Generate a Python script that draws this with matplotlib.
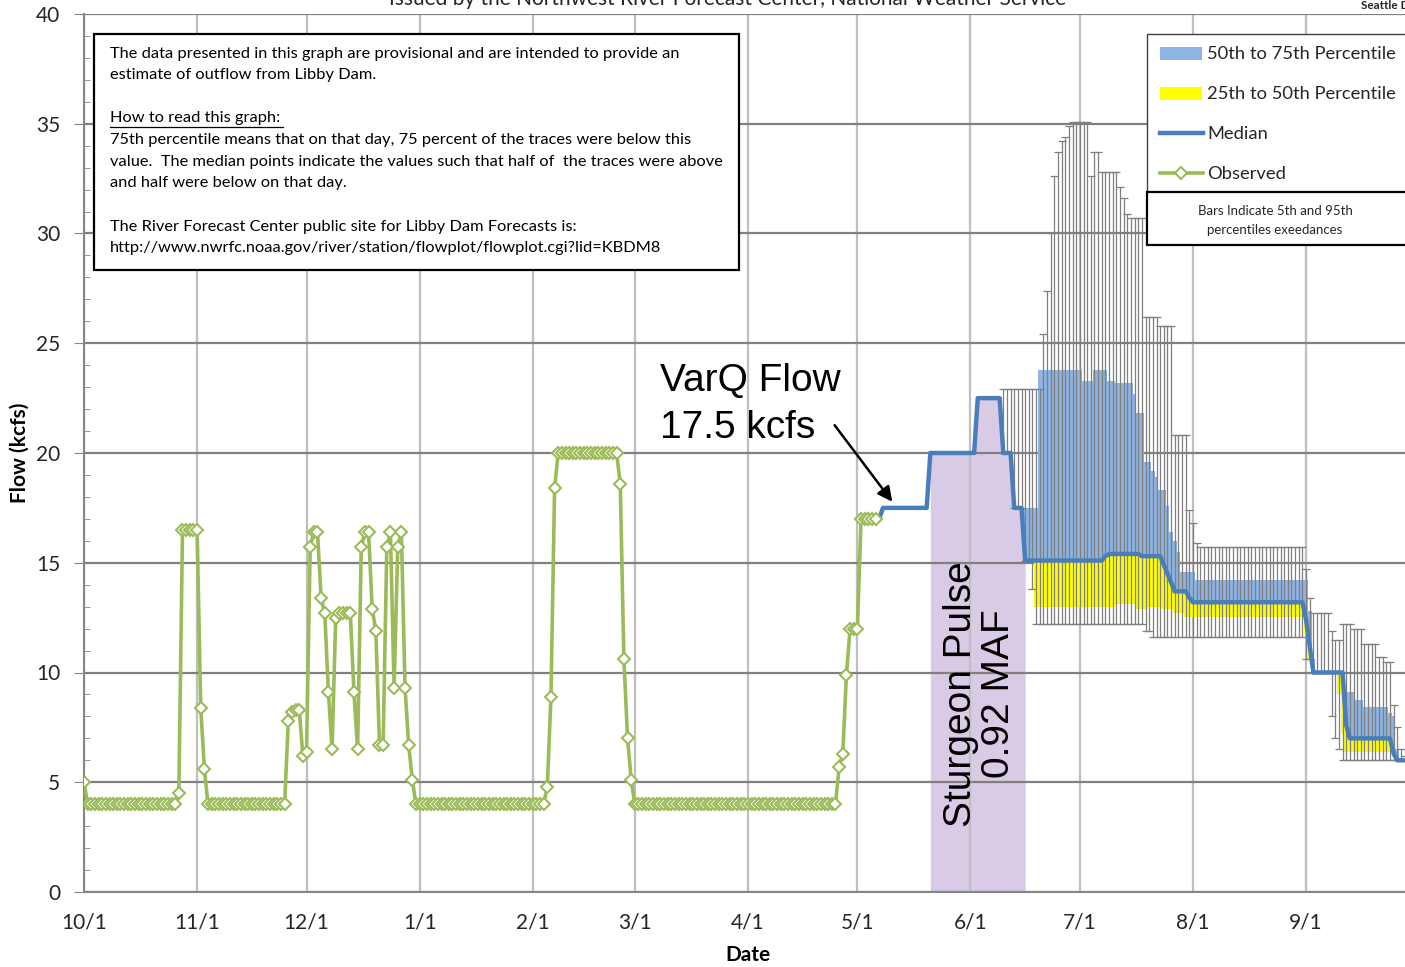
import numpy as np
import matplotlib
matplotlib.use("Agg")
import matplotlib.pyplot as plt
from matplotlib.patches import Rectangle
from matplotlib.lines import Line2D

plt.rcParams['font.family'] = ['Lato', 'DejaVu Sans']

# ---- data (x = days since 10/1) ----
month_days = [0, 31, 61, 92, 123, 151, 182, 212, 243, 273, 304, 335]
month_labels = ["10/1", "11/1", "12/1", "1/1", "2/1", "3/1", "4/1",
                "5/1", "6/1", "7/1", "8/1", "9/1"]

# observed daily outflow, 10/1 .. 5/6
observed = ([5.0] + [4.0] * 25 + [4.5] + [16.5] * 5 + [8.4, 5.6] + [4.0] * 22
            + [7.8, 8.2, 8.3, 8.3, 6.2, 6.4, 15.7, 16.4, 16.4, 13.4, 12.7, 9.1,
               6.5, 12.5, 12.7, 12.7, 12.7, 12.7, 9.1, 6.5, 15.7, 16.4, 16.4,
               12.9, 11.9, 6.7, 6.7, 15.7, 16.4, 9.3, 15.7, 16.4, 9.3, 6.7, 5.1]
            + [4.0] * 36 + [4.8, 8.9, 18.4] + [20.0] * 17
            + [18.6, 10.6, 7.0, 5.1] + [4.0] * 56
            + [5.7, 6.3, 9.9, 12.0, 12.0, 12.0] + [17.0] * 5)
obs_start = 0

# forecast median, from day 218
median = ([17.0] + [17.5] * 13 + [20.0] * 13 + [22.5] * 7 + [20.0] * 3
          + [17.5] * 3 + [15.1] * 22 + [15.3] + [15.4] * 9 + [15.3] * 6
          + [14.9, 14.5, 14.1] + [13.7] * 4 + [13.4] + [13.2] * 31
          + [12.4, 11.2] + [10.0] * 9 + [7.6] + [7.0] * 12 + [6.3] + [6.0] * 3)
med_start = 218

# percentiles, from day 252
pct_start = 252
p95 = ([22.9] * 11 + [25.4, 27.4, 30.0, 32.6, 33.7, 34.2, 34.4, 34.9]
       + [35.1] * 5 + [32.6] + [33.7] * 2 + [32.8] * 5 + [32.1, 31.6, 30.9]
       + [30.7] * 4 + [26.2] * 4 + [25.8] * 4 + [20.8] * 4 + [17.4, 16.8, 15.9]
       + [15.7] * 29 + [14.7, 13.4] + [12.7] * 5 + [11.9] + [11.5] * 2
       + [12.2] * 3 + [12.0] * 3 + [11.3] * 4 + [10.7] * 2 + [10.5] * 2
       + [8.5, 7.5, 6.5, 6.2])
p75 = ([20.0, 20.0, 20.0, 17.5, 17.5] + [17.5] * 5 + [23.8] * 12 + [23.3] * 3
       + [23.8] * 4 + [23.3] * 2 + [23.2] * 5 + [22.7] + [21.8] * 2
       + [19.6] * 2 + [19.2, 18.9] + [18.3] * 2 + [17.6, 16.4, 16.0, 15.5]
       + [14.6] * 4 + [14.2] * 30 + [14.2, 12.8, 10.6] + [10.0] * 8
       + [9.1] * 3 + [8.75] * 2 + [8.45] * 7 + [8.15, 8.0, 6.5] + [6.0] * 2)
p25 = ([20.0, 20.0, 20.0, 17.5, 17.5] + [17.5] + [15.1] * 3 + [13.0] * 22
       + [13.1] * 6 + [12.9] * 3 + [13.0] * 4 + [12.9] * 3 + [12.7] * 3
       + [12.55] * 33 + [11.8, 10.6] + [10.0] * 7 + [9.0, 7.2] + [6.4] * 13
       + [6.3] + [6.0] * 3)
p5 = ([20.0, 20.0, 20.0, 17.5, 17.5] + [17.5] + [15.1] * 2 + [13.8]
      + [12.2] * 30 + [11.9] * 2 + [11.6] * 42 + [10.6, 10.6] + [10.0] * 5
      + [8.0, 7.0, 6.5] + [6.0] * 18)

pulse_from, pulse_to = 232, 258

# ---- figure ----
W, H = 1405, 967
fig = plt.figure(figsize=(W / 100, H / 100), dpi=100)
ax = fig.add_axes([84 / W, 1 - 892 / H, (W - 84) / W, (892 - 14) / H])


def fx(x):
    return x / W


def fy(y):
    return 1 - y / H


odays = np.arange(obs_start, obs_start + len(observed))
mdays = np.arange(med_start, med_start + len(median))
pdays = np.arange(pct_start, pct_start + len(p95))
med = np.array(median)
med_p = med[pct_start - med_start:]
p95 = np.array(p95)
p75 = np.array(p75)
p25 = np.array(p25)
p5 = np.array(p5)

# sturgeon pulse shading under the median
sel = (mdays >= pulse_from) & (mdays <= pulse_to)
ax.fill_between(mdays[sel], 0, med[sel], color='#D9CAE6', lw=0, zorder=1)

# percentile bands
ax.bar(pdays, p75 - med_p, bottom=med_p, width=1.0, color='#8DB4E2', lw=0, zorder=2)
ax.bar(pdays, med_p - p25, bottom=p25, width=1.0, color='#FFFF00', lw=0, zorder=2)

# 5th-95th bars
ax.errorbar(pdays, p5, yerr=[np.zeros(len(p5)), p95 - p5], fmt='none',
            ecolor='#7F7F7F', elinewidth=0.9, capsize=3, capthick=0.9, zorder=3)

ax.plot(mdays, med, color='#4A7EBB', lw=3.2, zorder=5)
ax.plot(odays, observed, color='#9BBB59', lw=2.6, marker='D', ms=6,
        mfc='white', mec='#9BBB59', mew=1.5, zorder=6)

ax.set_xlim(0, (W - 84) / 3.648)
ax.set_ylim(0, 40)
ax.set_xticks(month_days)
ax.set_xticklabels(month_labels, fontsize=15)
ax.set_yticks(range(0, 41, 5))
ax.set_yticks(range(0, 41, 1), minor=True)
ax.tick_params(axis='y', labelsize=15, colors='#262626', pad=10)
ax.tick_params(axis='y', which='major', length=7, color='#868686', direction='out')
ax.tick_params(axis='y', which='minor', length=4, color='#868686', direction='in')
ax.tick_params(axis='x', length=0, pad=15, colors='#262626')
ax.grid(axis='y', color='#808080', lw=1.6)
ax.grid(axis='x', color='#BFBFBF', lw=1.6)
for s in ['top', 'right']:
    ax.spines[s].set_visible(False)
ax.spines['left'].set_color('#868686')
ax.spines['bottom'].set_color('#868686')
ax.spines['left'].set_linewidth(1.5)
ax.spines['bottom'].set_linewidth(1.5)

fig.text(fx(20), fy(453), "Flow (kcfs)", fontsize=15, fontweight='bold',
         rotation=90, ha='center', va='center')
fig.text(fx(748), fy(955), "Date", fontsize=15, fontweight='bold',
         ha='center', va='center')

# annotations
ax.text(157.9, (892 - 391) / 21.95, "VarQ Flow", family='Liberation Sans',
        fontsize=28, ha='left', va='baseline', zorder=8)
ax.text(157.9, (892 - 438) / 21.95, "17.5 kcfs", family='Liberation Sans',
        fontsize=28, ha='left', va='baseline', zorder=8)
ax.annotate("", xy=((894 - 84) / 3.648, (892 - 504) / 21.95),
            xytext=((833 - 84) / 3.648, (892 - 423) / 21.95),
            arrowprops=dict(arrowstyle='-|>', color='black', lw=1.8,
                            mutation_scale=22), zorder=8)
ax.text((980 - 84) / 3.648, (892 - 694) / 21.95, "Sturgeon Pulse\n0.92 MAF",
        family='Liberation Sans', fontsize=28, rotation=90, ha='center',
        va='center', multialignment='center', linespacing=1.1, zorder=8)

# title (cut at top, as in the source image) and office tag
fig.text(fx(728), fy(5), "Issued by the Northwest River Forecast Center, National Weather Service",
         fontsize=15, ha='center', va='baseline', color='#262626')
fig.text(fx(1361), fy(9), "Seattle District", fontsize=8.5, fontweight='bold',
         ha='left', va='baseline', color='#262626')

# note box
fig.add_artist(Rectangle((fx(94), fy(270)), fx(739 - 94), (270 - 34) / H,
                         transform=fig.transFigure, facecolor='white',
                         edgecolor='black', lw=1.6, zorder=10))
note = [
    (54, "The data presented in this graph are provisional and are intended to provide an"),
    (75, "estimate of outflow from Libby Dam."),
    (118, "How to read this graph:"),
    (140, "75th percentile means that on that day, 75 percent of the traces were below this"),
    (162, "value.  The median points indicate the values such that half of  the traces were above"),
    (183, "and half were below on that day."),
    (227, "The River Forecast Center public site for Libby Dam Forecasts is:"),
    (248, "http://www.nwrfc.noaa.gov/river/station/flowplot/flowplot.cgi?lid=KBDM8"),
]
for y, line in note:
    fig.text(fx(110), fy(y), line, fontsize=11.8, ha='left', va='center',
             color='black', zorder=11)
fig.add_artist(Line2D([fx(110), fx(283)], [fy(127), fy(127)], color='black',
                      lw=0.9, transform=fig.transFigure, zorder=11))

# legend
fig.add_artist(Rectangle((fx(1147), fy(192)), fx(270), (192 - 34) / H,
                         transform=fig.transFigure, facecolor='white',
                         edgecolor='#404040', lw=1.0, zorder=10))
fig.add_artist(Rectangle((fx(1147), fy(245)), fx(270), (245 - 192) / H,
                         transform=fig.transFigure, facecolor='white',
                         edgecolor='black', lw=1.6, zorder=10))
fig.add_artist(Rectangle((fx(1160), fy(60)), fx(42), 13 / H, transform=fig.transFigure,
                         facecolor='#8DB4E2', lw=0, zorder=11))
fig.add_artist(Rectangle((fx(1160), fy(100)), fx(42), 13 / H, transform=fig.transFigure,
                         facecolor='#FFFF00', lw=0, zorder=11))
fig.add_artist(Line2D([fx(1160), fx(1203)], [fy(133), fy(133)], color='#4A7EBB',
                      lw=3.2, transform=fig.transFigure, zorder=11))
fig.add_artist(Line2D([fx(1160), fx(1203)], [fy(173), fy(173)], color='#9BBB59',
                      lw=2.6, transform=fig.transFigure, zorder=11))
fig.add_artist(Line2D([fx(1181)], [fy(173)], color='#9BBB59', marker='D', ms=6,
                      mfc='white', mew=1.5, transform=fig.transFigure, zorder=12))
for y, lab in [(54, "50th to 75th Percentile"), (94, "25th to 50th Percentile"),
               (134, "Median"), (174, "Observed")]:
    fig.text(fx(1207), fy(y), lab, fontsize=13.2, ha='left', va='center',
             color='#262626', zorder=12)
fig.text(fx(1275), fy(211), "Bars Indicate 5th and 95th", fontsize=9.5,
         ha='center', va='center', color='#262626', zorder=12)
fig.text(fx(1275), fy(230), "percentiles exeedances", fontsize=9.5,
         ha='center', va='center', color='#262626', zorder=12)

fig.savefig("out.png", dpi=100)
